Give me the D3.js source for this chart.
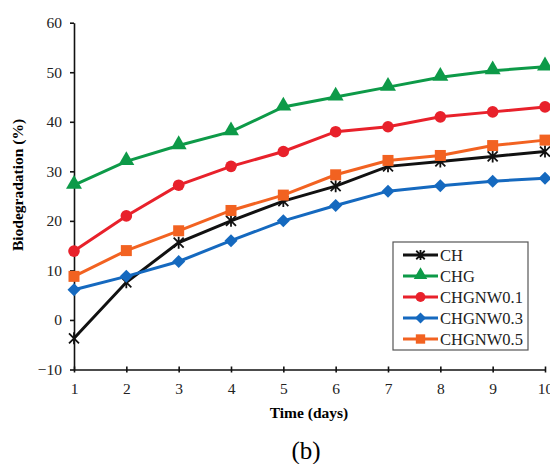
<html>
<head>
<meta charset="UTF-8">
<title>Biodegradation</title>
<script src="https://cdn.jsdelivr.net/npm/d3@7"></script>
<style>
  body { margin: 0; background: #fff; }
  text { font-family: "Liberation Serif", "Times New Roman", serif; }
</style>
</head>
<body>
<svg id="chart" width="550" height="464"></svg>
<script>
// values
var days = [1, 2, 3, 4, 5, 6, 7, 8, 9, 10];
var seriesNames = ["CH", "CHG", "CHGNW0.1", "CHGNW0.3", "CHGNW0.5"];
var chVals    = [-3.7, 7.6, 15.6, 20, 24, 27, 31, 32, 33, 34];
var chgVals   = [27.2, 32, 35.2, 38, 43, 45, 47, 49, 50.3, 51.1];
var nw01Vals  = [13.9, 21, 27.2, 31, 34, 38, 39, 41, 42, 43];
var nw03Vals  = [6.1, 8.8, 11.8, 16, 20, 23.1, 26, 27.1, 28, 28.6];
var nw05Vals  = [8.8, 14, 18, 22.1, 25.2, 29.3, 32.2, 33.2, 35.2, 36.3];
var yTicks = [-10, 0, 10, 20, 30, 40, 50, 60];

var colors = ["#111111", "#0d9a48", "#e8212b", "#1569bf", "#f26221"];
var shapes = ["star", "triangle", "circle", "diamond", "square"];
var allVals = [chVals, chgVals, nw01Vals, nw03Vals, nw05Vals];

var svg = d3.select("#chart");
var x = d3.scaleLinear().domain([1, 10]).range([74, 545]);
var y = d3.scaleLinear().domain([-10, 60]).range([369.5, 22.7]);

// axes
var xAxis = d3.axisBottom(x).tickValues(days).tickFormat(d3.format("d")).tickSize(0).tickPadding(13);
var gx = svg.append("g").attr("transform", "translate(0," + y(-10) + ")").call(xAxis);
gx.select(".domain").attr("stroke", "#111").attr("stroke-width", 1.6);
gx.selectAll("text").attr("font-size", 15.5).attr("fill", "#222");
gx.selectAll(".tick").append("line").attr("y1", -3).attr("y2", 3).attr("stroke", "#111").attr("stroke-width", 1.6);

var yAxis = d3.axisLeft(y).tickValues(yTicks).tickSize(0).tickPadding(12);
var gy = svg.append("g").attr("transform", "translate(" + x(1) + ",0)").call(yAxis);
gy.select(".domain").attr("stroke", "#111").attr("stroke-width", 1.6);
gy.selectAll("text").attr("font-size", 15.5).attr("fill", "#222");
gy.selectAll(".tick").append("line").attr("x1", -4).attr("x2", 0).attr("stroke", "#111").attr("stroke-width", 1.6);

// titles
svg.append("text").attr("x", 309).attr("y", 418).attr("text-anchor", "middle")
   .attr("font-size", 15.5).attr("font-weight", "bold").text("Time (days)");
svg.append("text").attr("transform", "translate(23,185) rotate(-90)").attr("text-anchor", "middle")
   .attr("font-size", 15.5).attr("font-weight", "bold").text("Biodegradation (%)");
svg.append("text").attr("x", 306).attr("y", 459).attr("text-anchor", "middle")
   .attr("font-size", 25).text("(b)");

function marker(g, shape, color, cx, cy, s) {
  if (shape == "circle") {
    g.append("circle").attr("cx", cx).attr("cy", cy).attr("r", 5.8 * s).attr("fill", color);
  } else if (shape == "triangle") {
    g.append("path").attr("d", d3.symbol().type(d3.symbolTriangle).size(110 * s * s)())
     .attr("transform", "translate(" + cx + "," + (cy - 1) + ")").attr("fill", color);
  } else if (shape == "diamond") {
    var r = 6.5 * s;
    g.append("path").attr("d", "M" + cx + "," + (cy - r) + "L" + (cx + r) + "," + cy + "L" + cx + "," + (cy + r) + "L" + (cx - r) + "," + cy + "Z")
     .attr("fill", color);
  } else if (shape == "square") {
    var h = 5.5 * s;
    g.append("rect").attr("x", cx - h).attr("y", cy - h).attr("width", 2 * h).attr("height", 2 * h).attr("fill", color);
  } else {
    var a = 5 * s;
    g.append("path").attr("d", "M" + (cx - a) + "," + (cy - a) + "L" + (cx + a) + "," + (cy + a) +
        "M" + (cx - a) + "," + (cy + a) + "L" + (cx + a) + "," + (cy - a) +
        "M" + cx + "," + (cy - a * 1.2) + "L" + cx + "," + (cy + a * 1.2))
     .attr("stroke", color).attr("stroke-width", 1.8).attr("fill", "none");
  }
}

var line = d3.line().x(function(d, i) { return x(days[i]); }).y(function(d) { return y(d); });

// draw order: CH on bottom so others overlap like the source
var order = [0, 3, 4, 2, 1];
order.forEach(function(k) {
  var g = svg.append("g");
  g.append("path").datum(allVals[k]).attr("d", line).attr("fill", "none")
   .attr("stroke", colors[k]).attr("stroke-width", 3);
  allVals[k].forEach(function(v, i) {
    marker(g, shapes[k], colors[k], x(days[i]), y(v), 1);
  });
});

// legend
var lg = svg.append("g");
lg.append("rect").attr("x", 393).attr("y", 242).attr("width", 135).attr("height", 108)
  .attr("fill", "#fff").attr("stroke", "#555").attr("stroke-width", 1.2);
seriesNames.forEach(function(n, k) {
  var ly = 255 + k * 21;
  lg.append("line").attr("x1", 403).attr("x2", 438).attr("y1", ly).attr("y2", ly)
    .attr("stroke", colors[k]).attr("stroke-width", 3);
  marker(lg, shapes[k], colors[k], 420.5, ly, 0.85);
  lg.append("text").attr("x", 440).attr("y", ly + 5.5).attr("font-size", 16.5).attr("fill", "#222").text(n);
});
</script>
</body>
</html>
